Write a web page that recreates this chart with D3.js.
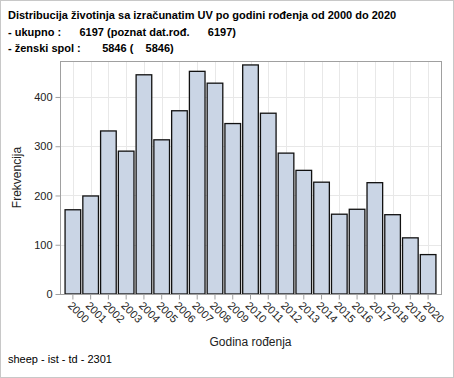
<!DOCTYPE html>
<html>
<head>
<meta charset="utf-8">
<script src="https://cdn.jsdelivr.net/npm/d3@7"></script>
<style>
  body { margin: 0; background: #fff; }
  svg text { font-family: Arial, "Liberation Sans", sans-serif; }
</style>
</head>
<body>
<div id="chart"></div>
<script>
// Data
const years = ["2000","2001","2002","2003","2004","2005","2006","2007","2008","2009","2010",
               "2011","2012","2013","2014","2015","2016","2017","2018","2019","2020"];
const counts = [171, 199, 331, 290, 445, 313, 372, 452, 428, 346, 465,
                367, 286, 251, 227, 162, 172, 226, 161, 114, 80];
const yTicks = [0, 100, 200, 300, 400];
const titleLines = [
  "Distribucija životinja sa izračunatim UV po godini rođenja od 2000 do 2020",
  "- ukupno :      6197 (poznat dat.rođ.      6197)",
  "- ženski spol :       5846 (    5846)"
];
const footnote = "sheep - ist - td - 2301";

const W = 454, H = 378;
const frame = {left: 60, right: 441, top: 61, bottom: 294};

const svg = d3.select("#chart").append("svg")
    .attr("width", W)
    .attr("height", H);

// outer border
svg.append("rect")
    .attr("x", 0.5).attr("y", 0.5)
    .attr("width", W - 1).attr("height", H - 1)
    .attr("fill", "#fff")
    .attr("stroke", "#c8c8c8");

// title lines
svg.selectAll("text.title")
  .data(titleLines)
  .enter()
  .append("text")
  .attr("class", "title")
  .attr("x", 8)
  .attr("y", (d, i) => 19 + i * 16.5)
  .attr("xml:space", "preserve")
  .style("font-size", "11px")
  .style("font-weight", "bold")
  .style("white-space", "pre")
  .attr("fill", "#000")
  .text(d => d);

// scales
const x = d3.scaleBand()
    .domain(years)
    .range([frame.left + 4, frame.right - 4])
    .paddingInner(0.12)
    .paddingOuter(0.06);

const y = d3.scaleLinear()
    .domain([0, 473])
    .range([frame.bottom, frame.top]);

// grid
svg.selectAll("line.hgrid")
  .data(yTicks.slice(1))
  .enter()
  .append("line")
  .attr("x1", frame.left).attr("x2", frame.right)
  .attr("y1", d => Math.round(y(d)) + 0.5).attr("y2", d => Math.round(y(d)) + 0.5)
  .attr("stroke", "#e8e8e8");

svg.selectAll("line.vgrid")
  .data(years)
  .enter()
  .append("line")
  .attr("x1", d => Math.round(x(d) + x.bandwidth() / 2) + 0.5)
  .attr("x2", d => Math.round(x(d) + x.bandwidth() / 2) + 0.5)
  .attr("y1", frame.top).attr("y2", frame.bottom)
  .attr("stroke", "#e8e8e8");

// bars
svg.selectAll("rect.bar")
  .data(counts)
  .enter()
  .append("rect")
  .attr("class", "bar")
  .attr("x", (d, i) => x(years[i]))
  .attr("y", d => y(d))
  .attr("width", x.bandwidth())
  .attr("height", d => y(0) - y(d))
  .attr("fill", "#cad5e5")
  .attr("stroke", "#111")
  .attr("stroke-width", 1.3);

// frame
svg.append("rect")
    .attr("x", frame.left + 0.5).attr("y", frame.top + 0.5)
    .attr("width", frame.right - frame.left)
    .attr("height", frame.bottom - frame.top)
    .attr("fill", "none")
    .attr("stroke", "#a0a0a0");

// y axis
const yAxis = svg.append("g")
    .attr("transform", `translate(${frame.left + 0.5},0)`)
    .call(d3.axisLeft(y).tickValues(yTicks).tickSize(5).tickPadding(3));
yAxis.select(".domain").remove();
yAxis.selectAll("line").attr("stroke", "#a0a0a0");
yAxis.selectAll("text")
    .style("font-size", "11px")
    .style("font-family", "Arial, 'Liberation Sans', sans-serif")
    .attr("fill", "#222");

// x axis
const xAxis = svg.append("g")
    .attr("transform", `translate(0,${frame.bottom + 0.5})`)
    .call(d3.axisBottom(x).tickSize(5).tickPadding(4));
xAxis.select(".domain").remove();
xAxis.selectAll("line").attr("stroke", "#a0a0a0");
xAxis.selectAll("text")
    .style("font-size", "11px")
    .style("font-family", "Arial, 'Liberation Sans', sans-serif")
    .attr("fill", "#222")
    .attr("text-anchor", "start")
    .attr("dy", "0.35em")
    .attr("transform", "translate(-3,9) rotate(45)")
    .attr("x", 0).attr("y", 0);

// axis titles
svg.append("text")
    .attr("x", (frame.left + frame.right) / 2)
    .attr("y", 346)
    .attr("text-anchor", "middle")
    .style("font-size", "12px")
    .attr("fill", "#222")
    .text("Godina rođenja");

svg.append("text")
    .attr("transform", `translate(21,${(frame.top + frame.bottom) / 2}) rotate(-90)`)
    .attr("text-anchor", "middle")
    .style("font-size", "12px")
    .attr("fill", "#222")
    .text("Frekvencija");

// footnote
svg.append("text")
    .attr("x", 8)
    .attr("y", 363)
    .style("font-size", "11px")
    .attr("fill", "#000")
    .text(footnote);
</script>
</body>
</html>
